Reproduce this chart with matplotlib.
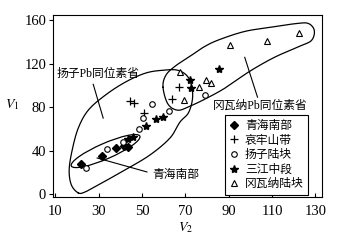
import numpy as np
import matplotlib.pyplot as plt
from matplotlib.patches import Ellipse
from matplotlib.transforms import Affine2D

plt.rcParams['font.family'] = ['Liberation Serif', 'Noto Sans CJK SC']
plt.rcParams['mathtext.fontset'] = 'stix'

# V2 / V1 values
qinghai_x = [22.0, 31.5, 38.0, 41.5, 43.5]
qinghai_y = [28.0, 35.0, 42.0, 44.5, 43.0]

ailao_x = [44.3, 46.4, 50.8, 63.8, 67.0]
ailao_y = [86.0, 84.0, 75.0, 88.0, 98.5]

yangzi_x = [24.0, 34.0, 41.1, 48.7, 50.6, 54.5, 62.5, 79.0]
yangzi_y = [23.5, 41.3, 47.4, 60.0, 70.2, 83.0, 76.5, 91.0]

sanjiang_x = [43.7, 46.0, 51.8, 56.3, 59.8, 72.0, 72.8, 85.3]
sanjiang_y = [50.5, 52.3, 62.3, 69.0, 71.1, 104.8, 97.5, 115.6]

gond_x = [67.5, 69.2, 76.5, 79.4, 81.8, 90.8, 107.6, 122.6]
gond_y = [112.0, 87.0, 99.0, 105.5, 102.5, 137.0, 141.3, 148.0]

labels = ["青海南部", "哀牢山带", "扬子陆块", "三江中段", "冈瓦纳陆块"]

# field outlines (data coords)
yz_field_x = [20.6, 17.4, 16.4, 17.8, 20.6, 25.2, 33.0, 42.2, 51.4, 59.2,
              66.6, 71.6, 73.4, 71.6, 67.5, 62.9, 53.7, 42.2, 30.7, 23.8]
yz_field_y = [0.9, 8.3, 22.1, 40.5, 60.7, 77.2, 91.0, 103.0, 111.3, 114.0,
              114.0, 106.7, 91.0, 75.4, 66.2, 51.5, 35.9, 22.1, 9.2, 1.8]

gw_field_x = [59.7, 61.0, 65.2, 72.1, 79.0, 85.9, 97.4, 108.9, 121.3, 126.8,
              129.5, 128.2, 122.6, 111.1, 99.7, 88.2, 79.0, 72.1, 66.6, 62.0]
gw_field_y = [98.4, 109.4, 117.7, 126.9, 136.1, 142.5, 149.9, 153.6, 157.2, 157.2,
              150.8, 141.6, 136.1, 126.0, 113.1, 97.5, 87.4, 80.9, 77.2, 82.8]


def smooth_closed(xs, ys, n=24):
    p = np.column_stack([xs, ys])
    m = len(p)
    t = np.linspace(0, 1, n, endpoint=False)[:, None]
    segs = []
    for i in range(m):
        p0, p1, p2, p3 = p[i - 1], p[i], p[(i + 1) % m], p[(i + 2) % m]
        seg = 0.5 * (2 * p1 + (-p0 + p2) * t
                     + (2 * p0 - 5 * p1 + 4 * p2 - p3) * t ** 2
                     + (-p0 + 3 * p1 - 3 * p2 + p3) * t ** 3)
        segs.append(seg)
    out = np.vstack(segs + [segs[0][:1]])
    return out[:, 0], out[:, 1]


fig = plt.figure(figsize=(3.45, 2.47), dpi=100)
ax = fig.add_axes([0.154, 0.202, 0.779, 0.737])

lw = 0.9
sx, sy = smooth_closed(yz_field_x, yz_field_y)
ax.plot(sx, sy, color="black", lw=lw)
sx, sy = smooth_closed(gw_field_x, gw_field_y)
ax.plot(sx, sy, color="black", lw=lw)

# Qinghai field: ellipse drawn in (x, y/2) so it is round in pixels
ell = Ellipse((33.2, 19.75), 34.5, 7.2, angle=23.5, fill=False,
              edgecolor="black", lw=lw,
              transform=Affine2D().scale(1, 2) + ax.transData)
ax.add_patch(ell)

# pointer lines
ax.plot([27.5, 32.1], [101.1, 69.9], color="black", lw=0.8)
ax.plot([97.4, 103.3], [126.0, 89.2], color="black", lw=0.8)
ax.plot([29.3, 52.3], [33.1, 20.2], color="black", lw=0.8)

ax.text(29.8, 110.5, "扬子Pb同位素省", fontsize=8.5, ha="center", va="center")
ax.text(104.7, 80.9, "冈瓦纳Pb同位素省", fontsize=8.5, ha="center", va="center")
ax.text(65.6, 17.5, "青海南部", fontsize=8.5, ha="center", va="center")

ax.plot(qinghai_x, qinghai_y, "D", color="black", ms=4, ls="none", label=labels[0])
ax.plot(ailao_x, ailao_y, "+", color="black", ms=6, mew=0.9, ls="none", label=labels[1])
ax.plot(yangzi_x, yangzi_y, "o", mfc="white", mec="black", ms=4, mew=0.8,
        ls="none", label=labels[2])
ax.plot(sanjiang_x, sanjiang_y, "*", color="black", ms=6, ls="none", label=labels[3])
ax.plot(gond_x, gond_y, "^", mfc="white", mec="black", ms=4.5, mew=0.8,
        ls="none", label=labels[4])

leg = ax.legend(loc="upper left", bbox_to_anchor=(0.639, 0.45), borderaxespad=0,
                fontsize=8.5, frameon=True, fancybox=False, edgecolor="black",
                handlelength=0.8, handletextpad=0.5, labelspacing=0.22,
                borderpad=0.4, framealpha=1)
leg.get_frame().set_linewidth(0.8)

ax.set_xlim(9, 133)
ax.set_ylim(-3, 165)
ax.set_xticks([10, 30, 50, 70, 90, 110, 130])
ax.set_yticks([0, 40, 80, 120, 160])
ax.tick_params(axis="x", direction="in", length=3, width=0.8, labelsize=10.5, pad=6)
ax.tick_params(axis="y", direction="out", length=3, width=0.8, labelsize=10.5, pad=2)
for s in ax.spines.values():
    s.set_linewidth(0.8)

fig.text(186 / 345, 1 - 228 / 247, r"$V_2$", fontsize=10, ha="center", va="center")
fig.text(12 / 345, 1 - 105 / 247, r"$V_1$", fontsize=10, ha="center", va="center")

fig.savefig("out.png", dpi=100)
